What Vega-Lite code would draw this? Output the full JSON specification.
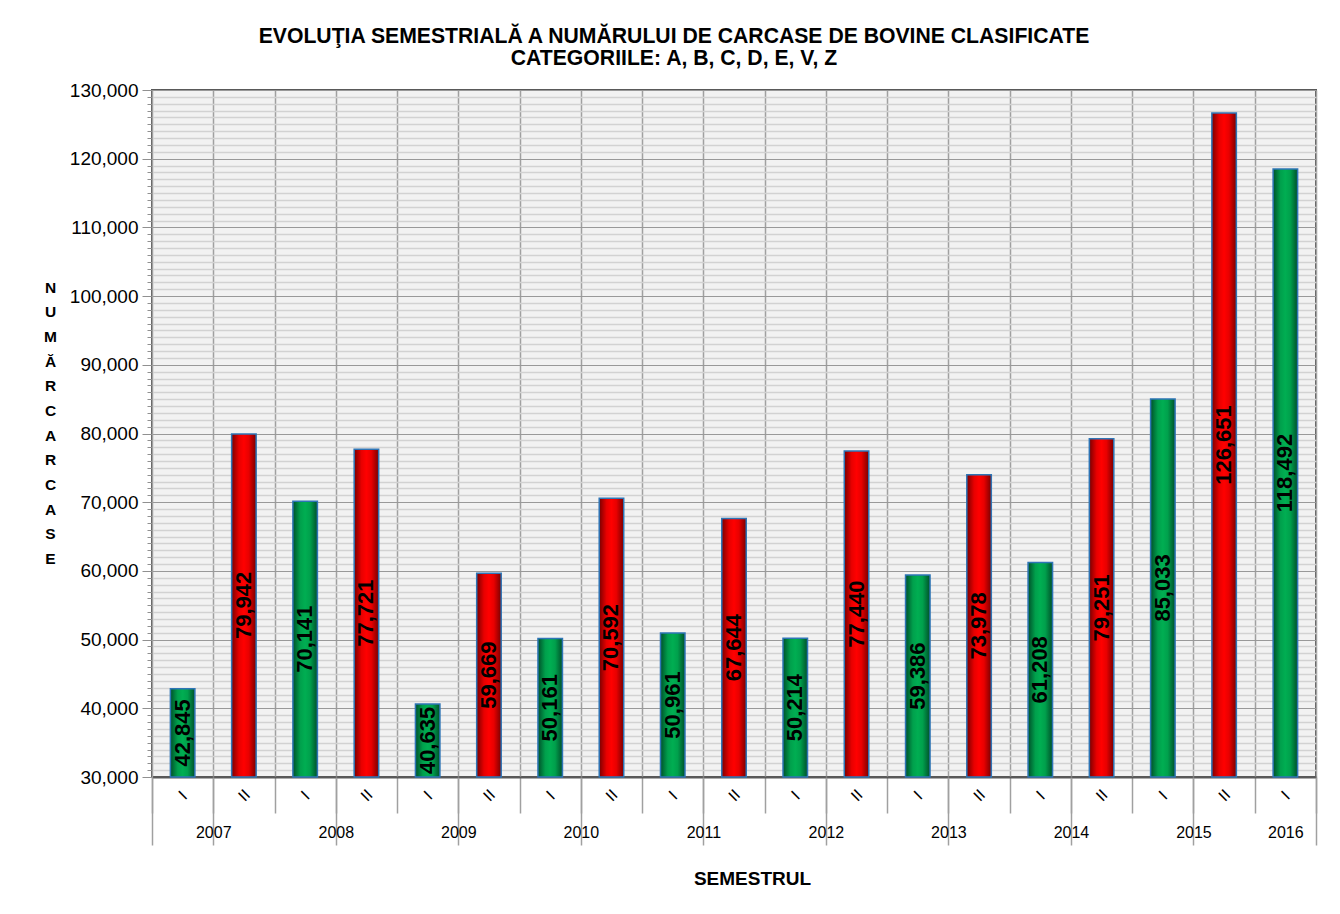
{
  "$schema": "https://vega.github.io/schema/vega-lite/v6.json",
  "width": 1164,
  "height": 687,
  "autosize": {"type": "none"},
  "padding": {"left": 152, "top": 90, "right": 24, "bottom": 137},
  "background": "white",
  "config": {
    "font": "Liberation Sans",
    "view": {"fill": "#F2F2F2", "stroke": "#595959", "strokeWidth": 2}
  },
  "title": {
    "text": ["EVOLUŢIA SEMESTRIALĂ  A NUMĂRULUI DE  CARCASE DE BOVINE  CLASIFICATE", "CATEGORIILE: A, B, C, D, E, V, Z"],
    "font": "Liberation Sans",
    "fontSize": 21.2,
    "fontWeight": "bold",
    "color": "black",
    "lineHeight": 22,
    "anchor": "middle",
    "dx": -60,
    "offset": 12
  },
  "data": {
    "values": [
      {"year": "2007", "sem": "I", "key": "2007-I", "value": 42845},
      {"year": "2007", "sem": "II", "key": "2007-II", "value": 79942},
      {"year": "2008", "sem": "I", "key": "2008-I", "value": 70141},
      {"year": "2008", "sem": "II", "key": "2008-II", "value": 77721},
      {"year": "2009", "sem": "I", "key": "2009-I", "value": 40635},
      {"year": "2009", "sem": "II", "key": "2009-II", "value": 59669},
      {"year": "2010", "sem": "I", "key": "2010-I", "value": 50161},
      {"year": "2010", "sem": "II", "key": "2010-II", "value": 70592},
      {"year": "2011", "sem": "I", "key": "2011-I", "value": 50961},
      {"year": "2011", "sem": "II", "key": "2011-II", "value": 67644},
      {"year": "2012", "sem": "I", "key": "2012-I", "value": 50214},
      {"year": "2012", "sem": "II", "key": "2012-II", "value": 77440},
      {"year": "2013", "sem": "I", "key": "2013-I", "value": 59386},
      {"year": "2013", "sem": "II", "key": "2013-II", "value": 73978},
      {"year": "2014", "sem": "I", "key": "2014-I", "value": 61208},
      {"year": "2014", "sem": "II", "key": "2014-II", "value": 79251},
      {"year": "2015", "sem": "I", "key": "2015-I", "value": 85033},
      {"year": "2015", "sem": "II", "key": "2015-II", "value": 126651},
      {"year": "2016", "sem": "I", "key": "2016-I", "value": 118492}
    ]
  },
  "resolve": {"scale": {"y": "independent"}, "axis": {"x": "independent", "y": "independent"}},
  "layer": [
    {
      "mark": {"type": "bar", "width": {"band": 0.4}, "stroke": "#2E75B6", "strokeWidth": 1.5},
      "encoding": {
        "x": {
          "field": "key", "type": "nominal", "sort": null,
          "scale": {"paddingInner": 0, "paddingOuter": 0},
          "axis": {
            "orient": "bottom", "title": null,
            "labelExpr": "split(datum.value, '-')[1]",
            "labelAngle": -45, "labelAlign": "center", "labelBaseline": "middle",
            "labelFontSize": 16, "labelColor": "black", "labelPadding": -18,
            "tickBand": "extent", "tickSize": 36, "tickColor": "#A0A0A0", "tickWidth": 1.5,
            "grid": true, "gridColor": "#A0A0A0", "gridWidth": 1.5,
            "domainColor": "#595959", "domainWidth": 2
          }
        },
        "y": {
          "field": "value", "type": "quantitative",
          "scale": {"domain": [30000, 130000], "nice": false, "zero": false},
          "axis": {
            "orient": "left", "tickCount": 100, "format": ",d",
            "labelExpr": "datum.value % 10000 == 0 ? datum.label : ''",
            "labelOverlap": false, "labelBound": false,
            "labelFontSize": 19, "labelColor": "black", "labelPadding": 4,
            "tickSize": {"condition": {"test": "datum.value % 10000 == 0", "value": 10}, "value": 5},
            "tickColor": "#909090", "domainColor": "#A0A0A0",
            "grid": true,
            "gridColor": {"condition": {"test": "datum.value % 10000 == 0", "value": "#999999"}, "value": "#D2D2D2"},
            "gridWidth": {"condition": {"test": "datum.value % 10000 == 0", "value": 1.2}, "value": 1.5},
            "title": ["N", "U", "M", "Ă", "R", " ", "C", "A", "R", "C", "A", "S", "E"],
            "titleAngle": 0, "titleAlign": "center", "titleBaseline": "middle",
            "titleFontSize": 15.5, "titleFontWeight": "bold", "titleColor": "black",
            "titleLineHeight": 24.7, "titleX": -102, "titleY": 197
          }
        },
        "y2": {"datum": 30000},
        "fill": {
          "condition": {
            "test": "datum.sem == 'I'",
            "value": {"gradient": "linear", "x1": 0, "x2": 1, "y1": 0, "y2": 0,
              "stops": [
                {"offset": 0, "color": "#00502A"},
                {"offset": 0.3, "color": "#00A04C"},
                {"offset": 0.5, "color": "#00AE52"},
                {"offset": 0.7, "color": "#00A04C"},
                {"offset": 1, "color": "#00502A"}
              ]}
          },
          "value": {"gradient": "linear", "x1": 0, "x2": 1, "y1": 0, "y2": 0,
            "stops": [
              {"offset": 0, "color": "#7A0000"},
              {"offset": 0.3, "color": "#E80000"},
              {"offset": 0.5, "color": "#FF0000"},
              {"offset": 0.7, "color": "#E80000"},
              {"offset": 1, "color": "#7A0000"}
            ]}
        }
      }
    },
    {
      "mark": {"type": "text", "angle": -90, "align": "center", "baseline": "middle", "fontSize": 22, "fontWeight": "bold", "color": "black"},
      "encoding": {
        "x": {
          "field": "key", "type": "nominal", "sort": null,
          "axis": {
            "orient": "bottom",
            "values": ["2007-I", "2008-I", "2009-I", "2010-I", "2011-I", "2012-I", "2013-I", "2014-I", "2015-I", "2016-I"],
            "labelExpr": "datum.value ? substring(datum.value, 0, 4) : ''",
            "labelFontSize": 16, "labelColor": "black", "labelAngle": 0,
            "labelAlign": "center", "labelBaseline": "middle", "labelPadding": -13,
            "labelOffset": {"condition": {"test": "datum.value == '2016-I'", "value": 0}, "value": 30.63},
            "tickBand": "extent", "tickSize": 68, "tickColor": "#A0A0A0", "tickWidth": 1.5,
            "domain": false, "grid": false,
            "title": "SEMESTRUL", "titleFontSize": 19, "titleFontWeight": "bold", "titleColor": "black",
            "titlePadding": 24, "titleX": 600, "titleAlign": "center"
          }
        },
        "y": {
          "field": "value", "type": "quantitative",
          "scale": {"domain": [30000, 230000], "nice": false, "zero": false},
          "axis": null
        },
        "text": {"field": "value", "type": "quantitative", "format": ",d"}
      }
    }
  ]
}
